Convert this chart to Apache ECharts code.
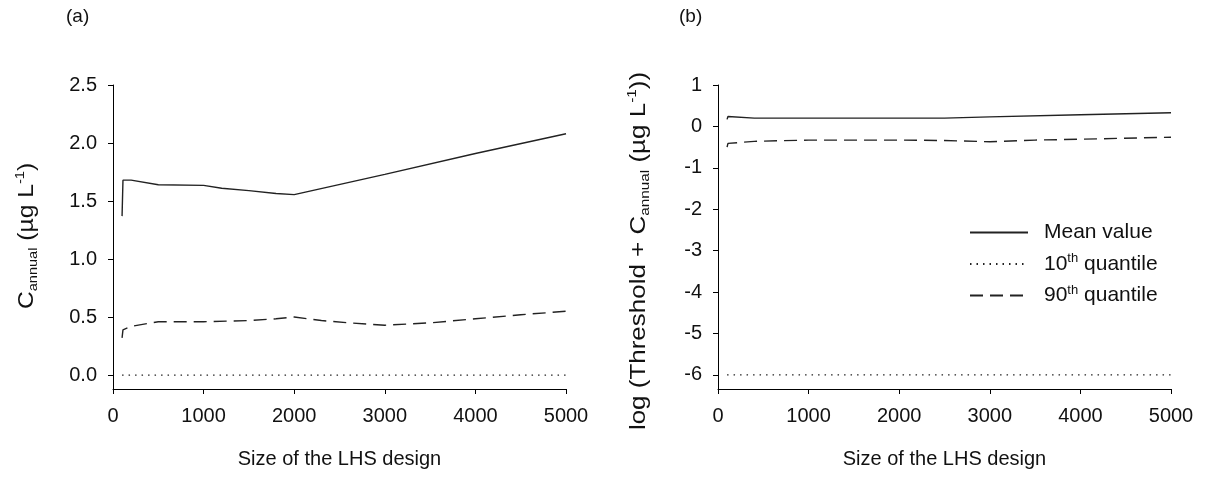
<!DOCTYPE html>
<html>
<head>
<meta charset="utf-8">
<script src="https://cdn.jsdelivr.net/npm/echarts@6/dist/echarts.min.js"></script>
<style>
html,body{margin:0;padding:0;background:#fff;}
#main{width:1205px;height:482px;}
</style>
</head>
<body>
<div id="main"></div>
<script>
// tick values
var xTicks = [0, 1000, 2000, 3000, 4000, 5000];
var yTicksA = [0, 0.5, 1, 1.5, 2, 2.5];
var yTicksB = [-6, -5, -4, -3, -2, -1, 0, 1];

// (a) C annual
var meanA = [[100, 1.37], [110, 1.68], [200, 1.68], [500, 1.64], [1000, 1.635], [1200, 1.61], [1500, 1.59], [1800, 1.565], [2000, 1.555], [3000, 1.73], [4000, 1.91], [5000, 2.08]];
var q10A = [[100, 0], [5000, 0]];
var q90A = [[100, 0.32], [110, 0.39], [200, 0.42], [500, 0.46], [1000, 0.46], [1500, 0.47], [1800, 0.485], [2000, 0.5], [2300, 0.47], [2600, 0.45], [3000, 0.43], [3500, 0.45], [4000, 0.485], [4500, 0.52], [5000, 0.55]];

// (b) log (threshold + C annual)
var meanB = [[100, 0.17], [110, 0.24], [400, 0.2], [2500, 0.2], [3000, 0.23], [4000, 0.28], [5000, 0.33]];
var q10B = [[100, -6], [5000, -6]];
var q90B = [[100, -0.5], [110, -0.41], [400, -0.36], [1000, -0.33], [2000, -0.33], [2500, -0.34], [3000, -0.37], [3500, -0.33], [4000, -0.31], [5000, -0.26]];

var FONT = 'Liberation Sans';
var ink = '#111';

var rich = {
  t: {fontSize: 21, fontFamily: FONT, color: ink, lineHeight: 24},
  p: {fontSize: 13, fontFamily: FONT, color: ink, lineHeight: 12, verticalAlign: 'top'}
};
var richY = {
  t: {fontSize: 22, fontFamily: FONT, fill: ink, lineHeight: 26},
  s: {fontSize: 13, fontFamily: FONT, fill: ink, lineHeight: 13, verticalAlign: 'bottom'},
  p: {fontSize: 13, fontFamily: FONT, fill: ink, lineHeight: 13, verticalAlign: 'top'}
};

function xAxis(idx) {
  return {
    type: 'value', gridIndex: idx, min: 0, max: 5000, interval: 1000,
    name: 'Size of the LHS design', nameLocation: 'middle', nameGap: 60,
    nameTextStyle: {fontSize: 20, fontFamily: FONT, color: ink},
    axisLine: {onZero: false, lineStyle: {color: '#000', width: 1}},
    axisTick: {length: 5, lineStyle: {color: '#000'}},
    axisLabel: {fontSize: 20, fontFamily: FONT, color: ink, margin: 17,
      formatter: function (v) { return String(v); }},
    splitLine: {show: false}
  };
}

function yAxis(idx, min, max, ticks, dec) {
  return {
    type: 'value', gridIndex: idx, min: min, max: max,
    axisLine: {onZero: false, lineStyle: {color: '#000', width: 1}},
    axisTick: {length: 5, customValues: ticks, lineStyle: {color: '#000'}},
    axisLabel: {
      fontSize: 20, fontFamily: FONT, color: ink, margin: 16, customValues: ticks,
      formatter: function (v) { return dec ? v.toFixed(1) : String(v); }
    },
    splitLine: {show: false}
  };
}

function line(name, idx, data, type) {
  return {
    name: name, type: 'line', xAxisIndex: idx, yAxisIndex: idx, data: data,
    symbol: 'none', silent: true, animation: false,
    itemStyle: {color: '#222'},
    lineStyle: {color: '#222', width: type === 'dotted' ? 1.3 : 1.4, type: type}
  };
}

var chart = echarts.init(document.getElementById('main'));
chart.setOption({
  backgroundColor: '#fff',
  animation: false,
  grid: [
    {left: 113, top: 85, width: 453, height: 304},
    {left: 718, top: 85, width: 453, height: 304}
  ],
  xAxis: [xAxis(0), xAxis(1)],
  yAxis: [
    yAxis(0, -0.12, 2.5, yTicksA, true),
    yAxis(1, -6.34, 1, yTicksB, false)
  ],
  legend: {
    left: 969, top: 222, orient: 'vertical', padding: 0,
    itemWidth: 58, itemHeight: 14, itemGap: 9,
    itemStyle: {opacity: 0},
    data: ['Mean value', '10th quantile', '90th quantile'],
    formatter: function (n) {
      if (n === 'Mean value') return '{t|Mean value}';
      return '{t|' + n.slice(0, 2) + '}{p|th}{t| quantile}';
    },
    textStyle: {rich: rich, padding: [0, 0, 0, 11]}
  },
  graphic: [
    {type: 'text', left: 66, top: 7, style: {text: '(a)', font: '19px "Liberation Sans"', fill: ink}},
    {type: 'text', left: 679, top: 7, style: {text: '(b)', font: '19px "Liberation Sans"', fill: ink}},
    {type: 'text', x: 27, y: 236, rotation: Math.PI / 2, scaleX: 1.12,
      style: {text: '{t|C}{s|annual}{t| (µg L}{p|-1}{t|)}', rich: richY, align: 'center', verticalAlign: 'middle'}},
    {type: 'text', x: 639, y: 251, rotation: Math.PI / 2, scaleX: 1.18,
      style: {text: '{t|log (Threshold + C}{s|annual}{t| (µg L}{p|-1}{t|))}', rich: richY, align: 'center', verticalAlign: 'middle'}}
  ],
  series: [
    line('Mean value', 0, meanA, 'solid'),
    line('10th quantile', 0, q10A, [1.5, 5]),
    line('90th quantile', 0, q90A, [13, 7]),
    line('Mean value', 1, meanB, 'solid'),
    line('10th quantile', 1, q10B, [1.5, 5]),
    line('90th quantile', 1, q90B, [13, 7])
  ]
});
</script>
</body>
</html>
